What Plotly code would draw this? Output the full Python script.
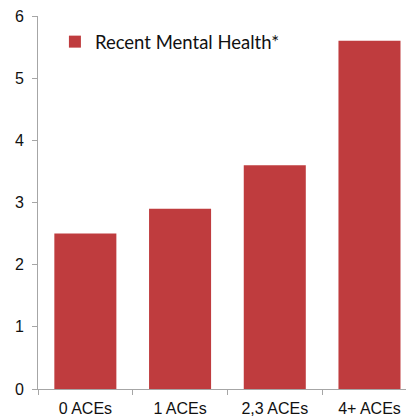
import plotly.graph_objects as go

categories = ["0 ACEs", "1 ACEs", "2,3 ACEs", "4+ ACEs"]
values = [2.5, 2.9, 3.6, 5.6]
series_name = "Recent Mental Health*"
y_ticks = [0, 1, 2, 3, 4, 5, 6]

fig = go.Figure()
fig.add_trace(go.Bar(x=categories, y=values, name=series_name,
                     marker=dict(color="#BF3C3E", line=dict(width=0)),
                     showlegend=True))

fig.update_layout(
    width=406, height=409,
    margin=dict(l=30, r=0, t=6, b=28),
    plot_bgcolor="white", paper_bgcolor="white",
    bargap=0.345,
    font=dict(family="Liberation Sans, Arial", size=16, color="#111"),
    showlegend=True,
    legend=dict(x=0.045, y=0.93, xanchor="left", yanchor="middle",
                font=dict(family="Lato, Open Sans", size=18.5, color="#111"),
                bgcolor="rgba(0,0,0,0)", itemwidth=30),
    xaxis=dict(range=[-0.5, 3.47], showline=True, linecolor="#A6A6A6", linewidth=1,
               ticks="outside", tickson="boundaries", ticklen=5, tickcolor="#A6A6A6",
               showgrid=False, zeroline=False, tickfont=dict(size=16),
               ticklabelstandoff=5),
    yaxis=dict(range=[0, 6], tickvals=y_ticks, showline=True, linecolor="#A6A6A6",
               linewidth=1, ticks="outside", ticklen=5, tickcolor="#A6A6A6",
               showgrid=False, zeroline=False, tickfont=dict(size=16),
               ticklabelstandoff=5, ticklabeloverflow="allow"),
)

fig.write_html("out.html")
